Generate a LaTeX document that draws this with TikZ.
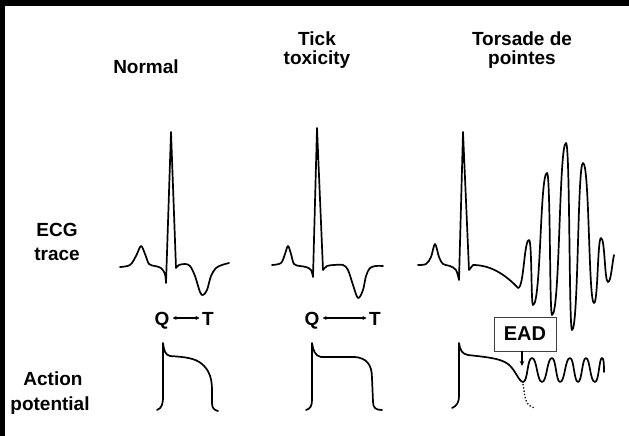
\documentclass[tikz,border=0pt]{standalone}
\usepackage{fontspec}
\setmainfont{Liberation Sans}
\usetikzlibrary{arrows.meta}
\begin{document}
\begin{tikzpicture}[x=1pt,y=-1pt,
  lbl/.style={font=\fontsize{19}{21}\selectfont\bfseries, inner sep=0pt, anchor=base},
  trace/.style={line width=1.7pt, line join=round, line cap=round},
  qt/.style={line width=1.1pt, {Stealth[length=4pt,width=4pt]}-{Stealth[length=4pt,width=4pt]}},
  eadbox/.style={draw=black!75, line width=0.8pt, fill=white, minimum width=62pt, minimum height=34pt, inner sep=0pt, font=\fontsize{20}{22}\selectfont\bfseries}
]
\useasboundingbox (0,0) rectangle (629,436);
\fill[white] (0,0) rectangle (629,436);

% column titles
\node[lbl] (tnormal) at (146,74) {Normal};
\node[lbl] (ttick1) at (317,46) {Tick};
\node[lbl] (ttick2) at (317,64) {toxicity};
\node[lbl] (ttor1) at (522,46) {Torsade de};
\node[lbl] (ttor2) at (522,64) {pointes};

% row labels
\node[lbl] (recg1) at (57,236) {ECG};
\node[lbl] (recg2) at (57,260) {trace};
\node[lbl] (rap1) at (53,385) {Action};
\node[lbl] (rap2) at (50,410) {potential};

% Q<->T
\node[lbl] (q1) at (162,325) {Q};
\node[lbl] (t1) at (208,325) {T};
\coordinate (qt1a) at ([xshift=3pt,yshift=7pt]q1.base east);
\coordinate (qt1b) at ([xshift=-2.5pt,yshift=7pt]t1.base west);
\draw[qt] (qt1a) -- (qt1b);
\node[lbl] (q2) at (312,325) {Q};
\node[lbl] (t2) at (375,325) {T};
\coordinate (qt2a) at ([xshift=3pt,yshift=7pt]q2.base east);
\coordinate (qt2b) at ([xshift=-2.5pt,yshift=7pt]t2.base west);
\draw[qt] (qt2a) -- (qt2b);

% Normal ECG
\draw[trace] plot[smooth,tension=0.55] coordinates {(120,267) (130,265) (136,256) (141,246) (145,254) (149,264) (155,266) (161,268) (165,274) (166,283)}
  -- (171,132) -- (176,268)
  plot[smooth,tension=0.55] coordinates {(176,268) (179,265) (185,264) (190,266) (195,276) (200,292) (203,295) (207,290) (211,276) (216,268) (222,265) (229,263)};

% Tick ECG
\draw[trace] plot[smooth,tension=0.55] coordinates {(272,265) (281,263) (285,254) (288,246) (291,254) (294,264) (300,266) (306,267) (311,270) (313,277)}
  -- (317,128) -- (323,270)
  plot[smooth,tension=0.55] coordinates {(323,270) (327,266) (334,265) (343,265) (348,270) (353,285) (358,298) (363,290) (366,276) (370,268) (376,266) (383,266)};

% Torsade ECG
\draw[trace] plot[smooth,tension=0.55] coordinates {(418,265) (426,264) (431,257) (435,244) (439,257) (443,264) (450,266) (456,270) (459,280)}
  -- (463,132) -- (469,270) -- (473,265)
  .. controls (490,265) and (505,274) .. (518,288)
  .. controls (524,288) and (524,240) .. (529,240)
  .. controls (532,240) and (531,305) .. (533,305)
  .. controls (541,305) and (540,173) .. (547,173)
  .. controls (550.5,173) and (549.5,315) .. (552,315)
  .. controls (560,315) and (559,143) .. (566,143)
  .. controls (570,143) and (569,330) .. (572,330)
  .. controls (578.5,330) and (577.5,163) .. (583,163)
  .. controls (589.5,163) and (588.5,303) .. (594,303)
  .. controls (598,303) and (597.5,238) .. (601,238)
  .. controls (605,238) and (604.5,282) .. (608,282)
  .. controls (611,282) and (612,264) .. (614,255);

% Normal AP
\draw[trace] (157,410) .. controls (162,408) and (163,404) .. (163,396) -- (163,343)
  .. controls (164,350) and (165,355) .. (170,356)
  .. controls (185,357) and (195,358) .. (202,364)
  .. controls (209,370) and (212,378) .. (212,390) -- (212,403)
  .. controls (212,408) and (214,410) .. (218,411);

% Tick AP
\draw[trace] (306,410) .. controls (310,409) and (312,406) .. (312,400) -- (312,343)
  .. controls (313,350) and (315,356) .. (321,357) -- (355,357)
  .. controls (366,358) and (372,364) .. (372,378) -- (373,402)
  .. controls (373,408) and (376,410) .. (382,410);

% Torsade AP
\draw[trace] (452,408) .. controls (457,406) and (459,402) .. (459,396) -- (459,343)
  .. controls (460,350) and (462,354) .. (468,355)
  .. controls (485,357) and (500,358) .. (508,364)
  .. controls (515,369) and (519,382) .. (523,382)
  .. controls (528,382) and (527,358) .. (532,358)
  .. controls (537,358) and (537,382) .. (542,382)
  .. controls (547,382) and (547,358) .. (552,358)
  .. controls (556,358) and (556,382) .. (560,382)
  .. controls (565,382) and (565,358) .. (570,358)
  .. controls (574,358) and (574,382) .. (578,382)
  .. controls (582,382) and (582,358) .. (586,358)
  .. controls (590,358) and (590,382) .. (595,382)
  .. controls (599,382) and (599,358) .. (602,358)
  .. controls (604,358) and (604,366) .. (604,372);
\draw[line width=1.3pt, dotted] (523,384) .. controls (525,395) and (524,406) .. (535,408);

% EAD box and arrow
\node[eadbox] (ead) at (525,334) {EAD};
\coordinate (eadtip) at (522,366);
\draw[line width=1.1pt, -{Stealth[length=5pt,width=4.5pt]}] (ead.south -| eadtip) -- (eadtip);

% black frame strips
\fill[black] (0,0) rectangle (629,6);
\fill[black] (0,0) rectangle (5,436);
\end{tikzpicture}
\end{document}
